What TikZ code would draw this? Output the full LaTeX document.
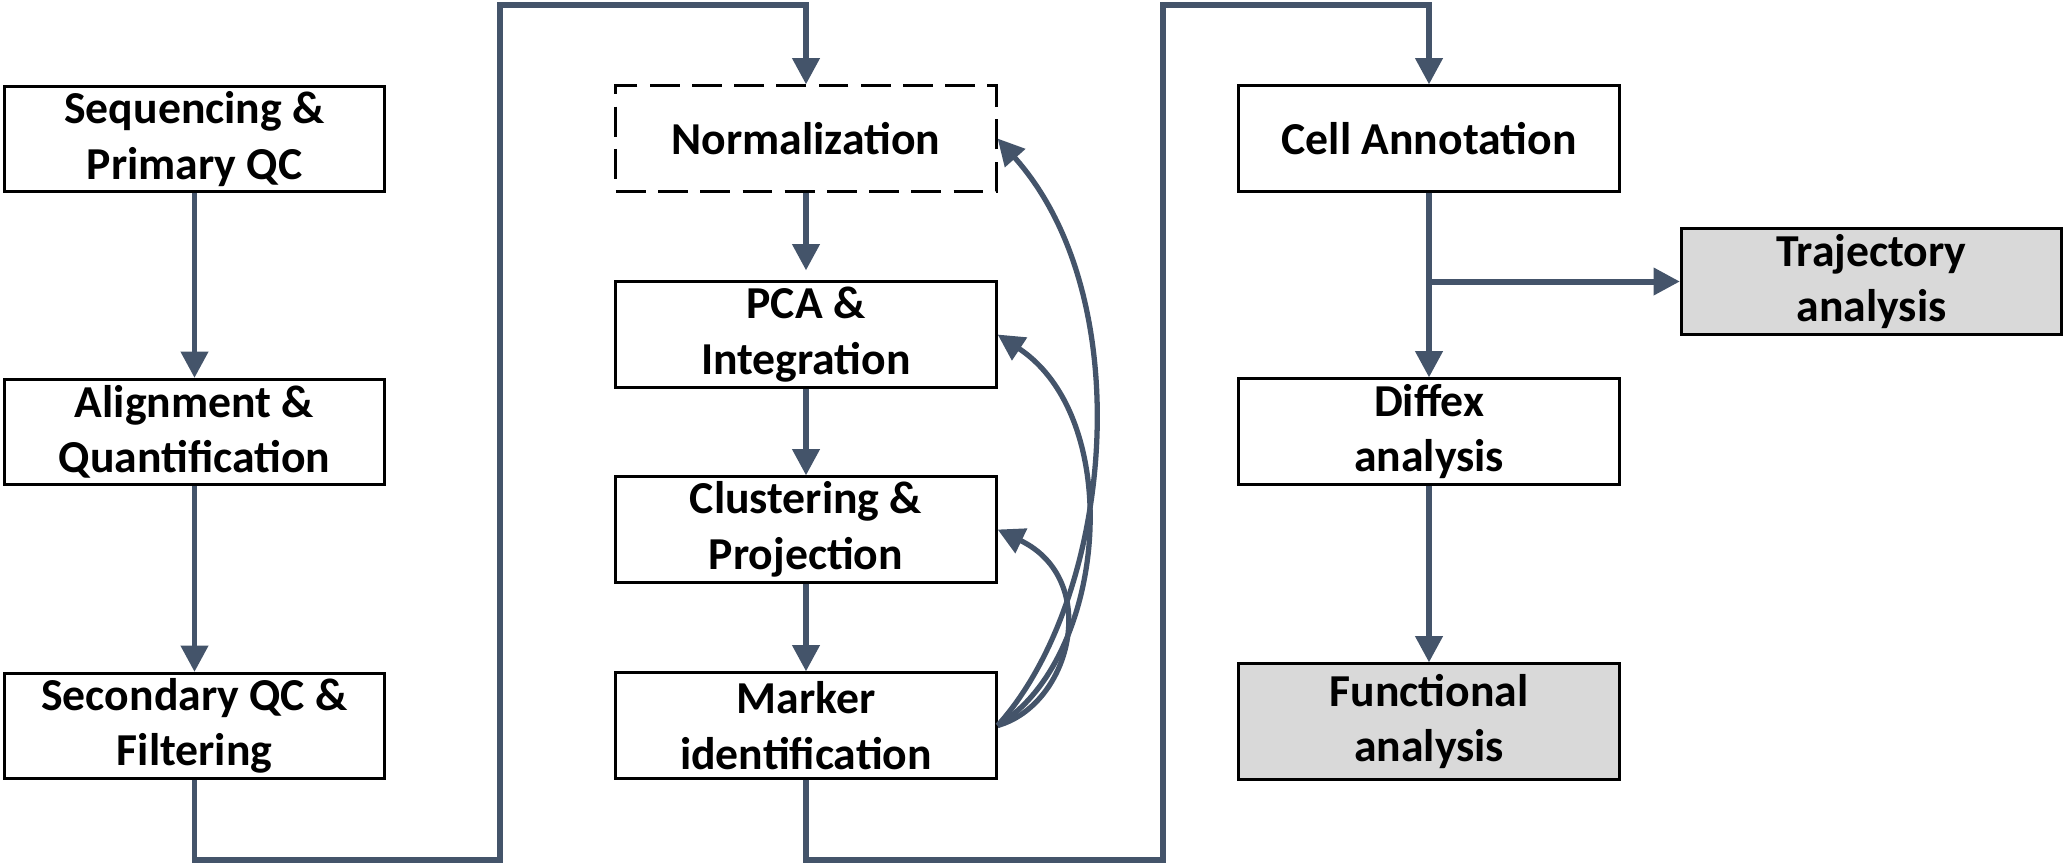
\documentclass[tikz,border=0pt]{standalone}
\usepackage{fontspec}
\setmainfont{Carlito}
\usetikzlibrary{arrows.meta}
\definecolor{slate}{HTML}{44546A}
\definecolor{boxgray}{HTML}{D9D9D9}
\begin{document}
\begin{tikzpicture}[x=0.01cm,y=-0.01cm,
  box/.style={draw=black, line width=0.85pt, fill=white, minimum width=3.8cm, minimum height=1.05cm,
    align=center, inner sep=0pt, font=\fontsize{13}{15.8}\selectfont\bfseries},
  graybox/.style={box, fill=boxgray},
  dashbox/.style={box, dash pattern=on 8.5pt off 3.5pt},
  flow/.style={draw=slate, line width=1.7pt, -{Triangle[width=7.5pt,length=7.5pt]}},
  plain/.style={draw=slate, line width=1.7pt},
  loopback/.style={draw=slate, line width=1.5pt, -{Triangle[width=7.5pt,length=7.5pt]}}
]
\useasboundingbox (0,0) rectangle (2067,866);

% column 1
\node[box] (seq) at (194.5,139) {Sequencing \&\\Primary QC};
\node[box] (aln) at (194.5,432) {Alignment \&\\Quantification};
\node[box] (sqc) at (194.5,726) {Secondary QC \&\\Filtering};
% column 2
\node[dashbox] (norm) at (806,138.5) {Normalization};
\node[box] (pca) at (806,334.5) {PCA \&\\Integration};
\node[box] (clu) at (806,529.5) {Clustering \&\\Projection};
\node[box] (mrk) at (806,725.5) {Marker\\identification};
% column 3
\node[box] (cell) at (1429,138.5) {Cell Annotation};
\node[box] (dfx) at (1429,431.5) {Diffex\\analysis};
\node[graybox, minimum height=1.15cm] (fun) at (1429,721.5) {Functional\\analysis};
\node[graybox] (traj) at (1871.5,281.5) {Trajectory\\analysis};

% column 1 arrows
\draw[flow] (seq) -- (aln);
\draw[flow] (aln) -- (sqc);
% link column 1 -> column 2
\coordinate (b1) at (500,860);
\coordinate (t1) at (500,5);
\draw[flow] (sqc.south) |- (b1) -- (t1) -| (norm.north);
% column 2 arrows
\draw[flow, shorten >=0.1cm] (norm) -- (pca);
\draw[flow] (pca) -- (clu);
\draw[flow] (clu) -- (mrk);
% feedback curves
\draw[loopback] (mrk.east) .. controls +(114,-126) and +(144,161) .. (norm.east);
\draw[loopback] (mrk.east) .. controls +(109,-66) and +(129,85) .. (pca.east);
\draw[loopback] (mrk.east) .. controls +(74,-21) and +(104,50) .. (clu.east);
% link column 2 -> column 3
\coordinate (b2) at (1163,860);
\coordinate (t2) at (1163,5);
\draw[flow] (mrk.south) |- (b2) -- (t2) -| (cell.north);
% column 3 arrows
\draw[flow] (cell) -- (dfx);
\draw[flow] (cell.south |- traj.west) -- (traj.west);
\draw[flow] (dfx) -- (fun);
\end{tikzpicture}
\end{document}
